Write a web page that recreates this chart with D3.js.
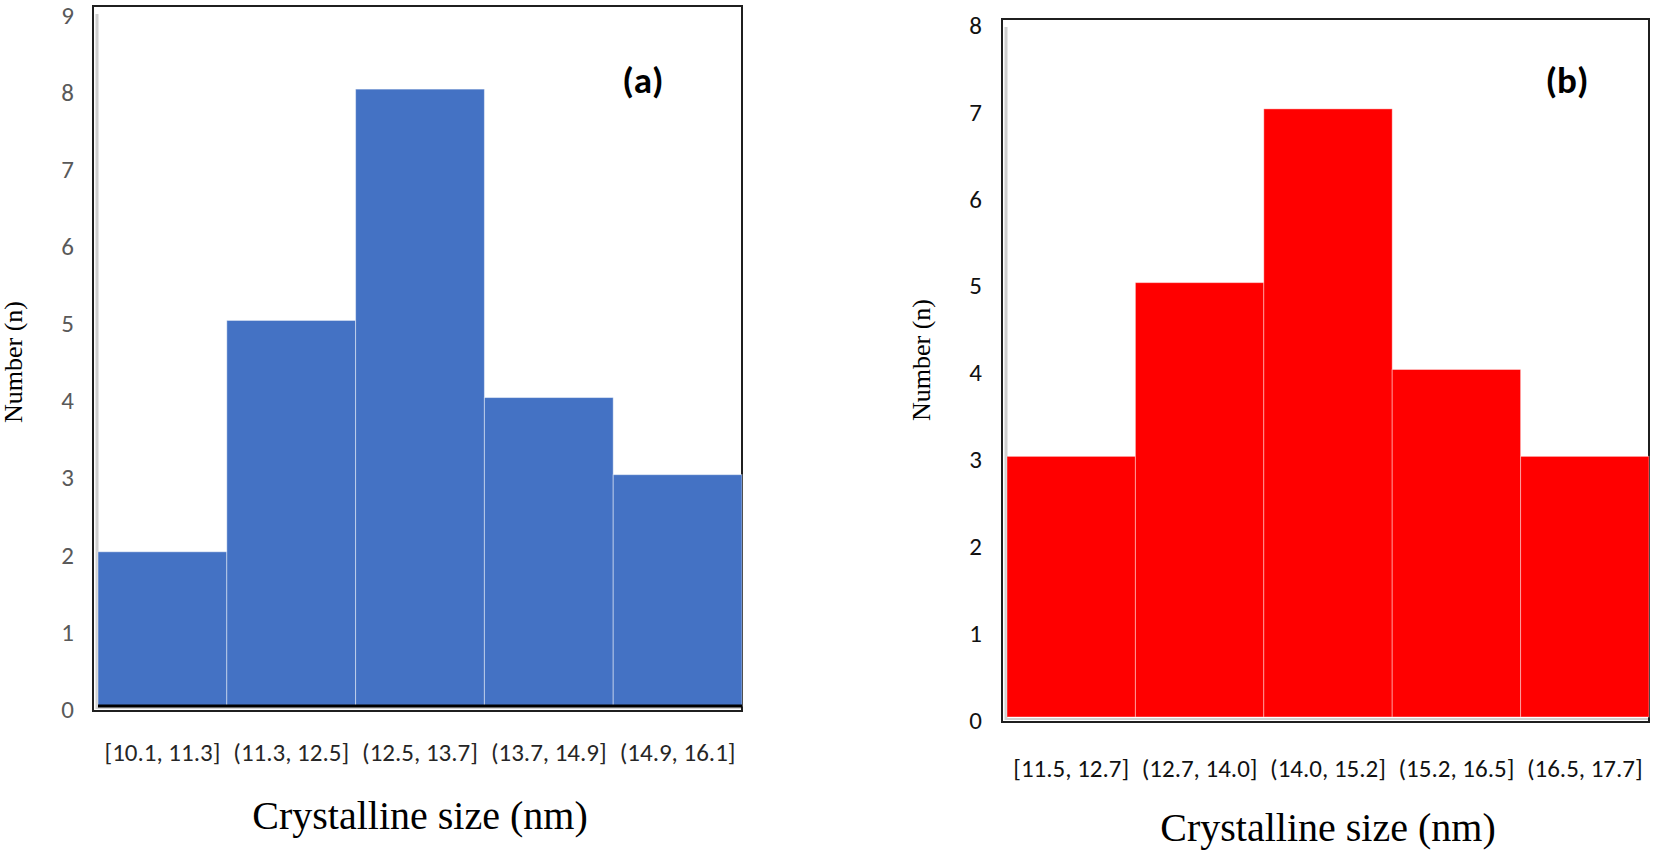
<!DOCTYPE html>
<html>
<head>
<meta charset="utf-8">
<script src="https://cdn.jsdelivr.net/npm/d3@7"></script>
<style>
  body { margin: 0; background: #fff; }
  svg { display: block; }
</style>
</head>
<body>
<svg id="chart" width="1654" height="854"></svg>
<script>
// histogram data
var binsA = ["[10.1, 11.3]", "(11.3, 12.5]", "(12.5, 13.7]", "(13.7, 14.9]", "(14.9, 16.1]"],
	countsA = [2, 5, 8, 4, 3],
	ticksA = [0, 1, 2, 3, 4, 5, 6, 7, 8, 9];

var binsB = ["[11.5, 12.7]", "(12.7, 14.0]", "(14.0, 15.2]", "(15.2, 16.5]", "(16.5, 17.7]"],
	countsB = [3, 5, 7, 4, 3],
	ticksB = [0, 1, 2, 3, 4, 5, 6, 7, 8];

var xTitle = "Crystalline size (nm)",
	yTitle = "Number (n)";

var svg = d3.select("#chart");

var panels = [
	{ bins: binsA, counts: countsA, ticks: ticksA, tag: "(a)",
	  fill: "#4472c4", sep: "rgba(255,255,255,0.45)", tickColor: "#595959", xTickColor: "#262626",
	  frame: {x0: 93, y0: 6, x1: 742, y1: 711}, base: 706, top: 12,
	  barX0: 98, ytx: 74, ytitleX: 22, ytitleY: 362, xtickY: 752, xtitleY: 829, tagX: 643, tagY: 80, baseline: true },
	{ bins: binsB, counts: countsB, ticks: ticksB, tag: "(b)",
	  fill: "#ff0000", sep: "rgba(255,255,255,0.4)", tickColor: "#111", xTickColor: "#111",
	  frame: {x0: 1002, y0: 19, x1: 1649, y1: 722}, base: 717, top: 22,
	  barX0: 1007, ytx: 982, ytitleX: 930, ytitleY: 360, xtickY: 768, xtitleY: 841, tagX: 1567, tagY: 80, baseline: false }
];

panels.forEach(drawPanel);

function drawPanel(p){
	var f = p.frame;
	var g = svg.append("g");

	var x = d3.scaleBand().domain(p.bins).range([p.barX0, f.x1]).paddingInner(0).paddingOuter(0);
	var y = d3.scaleLinear().domain([0, d3.max(p.ticks)]).range([p.base, p.top]);

	// plot frame
	g.append("rect")
		.attr("x", f.x0).attr("y", f.y0)
		.attr("width", f.x1 - f.x0).attr("height", f.y1 - f.y0)
		.attr("fill", "none").attr("stroke", "#1f1f1f").attr("stroke-width", 2);
	g.append("line")
		.attr("x1", f.x0 + 4).attr("x2", f.x0 + 4)
		.attr("y1", f.y0 + 8).attr("y2", f.y1 - 2)
		.attr("stroke", "#d0d0d0").attr("stroke-width", 3);
	g.append("line")
		.attr("x1", f.x0 + 3).attr("x2", f.x1 - 1)
		.attr("y1", f.y1 - 3).attr("y2", f.y1 - 3)
		.attr("stroke", "#d0d0d0").attr("stroke-width", 2);

	g.selectAll(".bar").data(p.counts).enter().append("rect")
		.attr("class", "bar")
		.attr("x", function(d, i){ return x(p.bins[i]); })
		.attr("y", function(d){ return y(d); })
		.attr("width", x.bandwidth())
		.attr("height", function(d){ return y(0) - y(d); })
		.attr("fill", p.fill)
		.attr("stroke", p.sep).attr("stroke-width", 1);

	if (p.baseline) {
		g.append("line")
			.attr("x1", x.range()[0]).attr("x2", x.range()[1])
			.attr("y1", y(0)).attr("y2", y(0))
			.attr("stroke", "#000").attr("stroke-width", 3);
	}

	// y tick labels
	var ya = g.append("g")
		.attr("transform", "translate(" + p.ytx + ",0)")
		.call(d3.axisLeft(y).tickValues(p.ticks).tickSize(0).tickPadding(0).tickFormat(d3.format("d")));
	ya.select(".domain").remove();
	ya.selectAll("text")
		.attr("dy", "0.45em")
		.style("font-family", "Carlito, Calibri, Lato, sans-serif")
		.style("font-size", "25px")
		.attr("fill", p.tickColor);

	// x tick labels
	var xa = g.append("g")
		.attr("transform", "translate(0," + p.xtickY + ")")
		.call(d3.axisBottom(x).tickSize(0).tickPadding(0));
	xa.select(".domain").remove();
	xa.selectAll("text")
		.attr("y", 0).attr("dy", "0.36em")
		.style("font-family", "Carlito, Calibri, Lato, sans-serif")
		.style("font-size", "25px")
		.attr("fill", p.xTickColor);

	g.append("text")
		.attr("x", (x.range()[0] + x.range()[1]) / 2)
		.attr("y", p.xtitleY)
		.attr("text-anchor", "middle")
		.style("font-family", "'Liberation Serif', 'Times New Roman', serif")
		.style("font-size", "40px")
		.attr("fill", "#000")
		.text(xTitle);

	g.append("text")
		.attr("transform", "translate(" + p.ytitleX + "," + p.ytitleY + ") rotate(-90)")
		.attr("text-anchor", "middle")
		.style("font-family", "'Liberation Serif', 'Times New Roman', serif")
		.style("font-size", "26px")
		.attr("fill", "#000")
		.text(yTitle);

	g.append("text")
		.attr("x", p.tagX).attr("y", p.tagY)
		.attr("text-anchor", "middle").attr("dy", "0.35em")
		.style("font-family", "Carlito, Calibri, Lato, sans-serif")
		.style("font-weight", "900")
		.style("font-size", "37px")
		.attr("fill", "#000")
		.text(p.tag);
}
</script>
</body>
</html>
